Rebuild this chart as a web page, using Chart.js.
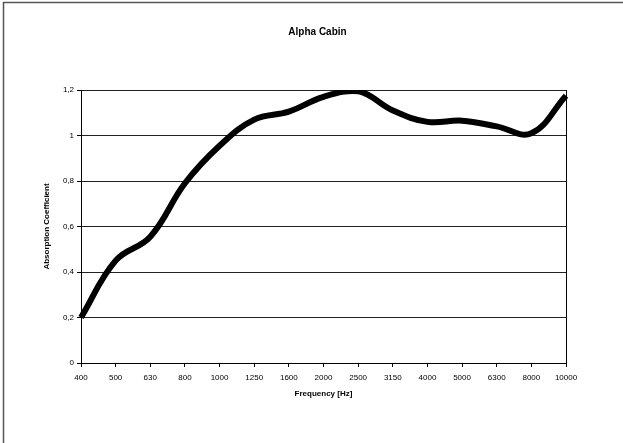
<!DOCTYPE html>
<html>
<head>
<meta charset="utf-8">
<script src="https://cdn.jsdelivr.net/npm/chart.js@4.4.0/dist/chart.umd.min.js"></script>
<style>
  html, body { margin: 0; padding: 0; background: #fff; }
  #wrap { width: 623px; height: 443px; position: relative; }
</style>
</head>
<body>
<div id="wrap"><canvas id="c" width="623" height="443"></canvas></div>
<script>
const chartTitle = 'Alpha Cabin';
const xTitle = 'Frequency [Hz]';
const yTitle = 'Absorption Coefficient';
const frequencies = ['400','500','630','800','1000','1250','1600','2000','2500','3150','4000','5000','6300','8000','10000'];
const absorption = [0.2, 0.45, 0.555, 0.79, 0.955, 1.07, 1.105, 1.17, 1.195, 1.11, 1.06, 1.065, 1.04, 1.01, 1.175];
const yTicks = [0, 0.2, 0.4, 0.6, 0.8, 1, 1.2];

const FONT = 'Arial, "Liberation Sans", sans-serif';

const framePlugin = {
  id: 'frame',
  beforeDraw(chart) {
    const ctx = chart.ctx;
    ctx.save();
    ctx.fillStyle = '#fff';
    ctx.fillRect(0, 0, chart.width, chart.height);
    ctx.strokeStyle = '#555';
    ctx.lineWidth = 1.5;
    ctx.beginPath();
    ctx.moveTo(3.5, 2);
    ctx.lineTo(3.5, chart.height);
    ctx.moveTo(3, 2.5);
    ctx.lineTo(chart.width, 2.5);
    ctx.stroke();
    ctx.restore();
  },
  afterDraw(chart) {
    const ctx = chart.ctx;
    ctx.save();
    ctx.fillStyle = '#000';
    ctx.font = 'bold 10px ' + FONT;
    ctx.textAlign = 'center';
    ctx.textBaseline = 'middle';
    ctx.fillText(chartTitle, 317.5, 32);
    ctx.restore();
  }
};

new Chart(document.getElementById('c'), {
  type: 'line',
  data: {
    labels: frequencies,
    datasets: [{
      data: absorption,
      borderColor: '#000',
      borderWidth: 6,
      tension: 0.4,
      pointRadius: 0,
      fill: false
    }]
  },
  options: {
    responsive: false,
    animation: false,
    devicePixelRatio: 1,
    layout: { padding: { top: 90, right: 57, left: 0, bottom: 30 } },
    plugins: { legend: { display: false }, tooltip: { enabled: false }, title: { display: false } },
    scales: {
      x: {
        type: 'category',
        offset: false,
        afterFit(s) { s.height = 50; },
        grid: {
          color: (c) => (c.index === frequencies.length - 1 ? '#000' : 'rgba(0,0,0,0)'),
          tickColor: '#000',
          tickLength: 4,
          drawOnChartArea: true
        },
        border: { color: '#000', width: 1 },
        ticks: { color: '#000', font: { family: FONT, size: 8 }, padding: 6, maxRotation: 0, autoSkip: false },
        title: { display: true, text: xTitle, color: '#000', font: { family: FONT, size: 8, weight: 'bold' }, padding: { top: 4, bottom: 14 } }
      },
      y: {
        min: 0,
        max: 1.2,
        afterFit(s) { s.width = 81; },
        afterBuildTicks(s) { s.ticks = yTicks.map(v => ({ value: v })); },
        grid: { color: '#222', lineWidth: 1, tickLength: 4, tickColor: '#000' },
        border: { color: '#000', width: 1 },
        ticks: {
          color: '#000',
          font: { family: FONT, size: 8 },
          padding: 3,
          callback: (v) => String(Math.round(v * 10) / 10).replace('.', ',')
        },
        title: { display: true, text: yTitle, color: '#000', font: { family: FONT, size: 8, weight: 'bold' }, padding: { top: 42, bottom: 0 } }
      }
    }
  },
  plugins: [framePlugin]
});
</script>
</body>
</html>
